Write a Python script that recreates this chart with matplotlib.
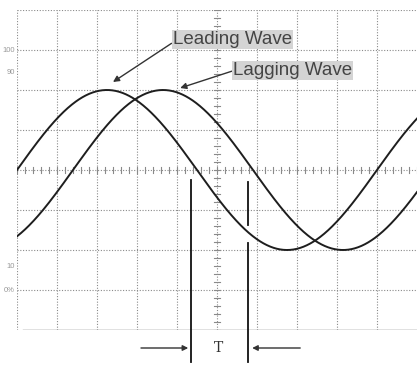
import numpy as np
import matplotlib
matplotlib.use("Agg")
import matplotlib.pyplot as plt

# ---- data (in screen divisions) ----
wave_names = ["Leading Wave", "Lagging Wave"]
wave_phase = [0.0, 1.4]          # horizontal offset of each wave (div)
amplitude = 2.0                  # peak amplitude (div)
period = 9.0                     # period (div)
level_labels = ["100", "90", "10", "0%"]
level_y = [3.0, 2.45, -2.4, -3.0]
t_marks = [4.35, 5.78]           # T interval edges (div)

fig = plt.figure(figsize=(4.18, 3.65), dpi=100)
ax = fig.add_axes([17/418, 35/365, 400/418, 320/365])
ax.set_xlim(0, 10)
ax.set_ylim(-4, 4)
ax.axis("off")

gcol = "#8a8a8a"
# grid
for gx in range(0, 10):
    ax.plot([gx, gx], [-4, 4], ls=(0, (1, 1.5)), color=gcol, lw=0.8)
for gy in range(-3, 5):
    ax.plot([0, 10], [gy, gy], ls=(0, (1, 1.5)), color=gcol, lw=0.8)
ax.plot([0.15, 10], [-4, -4], color="#6a6a6a", lw=1.0)

# center tick marks
for t in np.arange(-4, 4.01, 0.2):
    ax.plot([4.93, 5.07], [t, t], color=gcol, lw=0.8)
for t in np.arange(0, 10.01, 0.2):
    ax.plot([t, t], [-0.07, 0.07], color=gcol, lw=0.8)

# waves
x = np.linspace(0, 10, 600)
for ph in wave_phase:
    y = amplitude * np.sin(2 * np.pi * (x - ph) / period)
    ax.plot(x, y, color="#1e1e1e", lw=1.4)

# level labels
for lab, ly in zip(level_labels, level_y):
    ax.text(-0.05, ly, lab, fontsize=5.5, color="#999999", ha="right", va="center",
            family="Liberation Sans", clip_on=False)

# T markers
ax.plot([t_marks[0]] * 2, [-0.25, -4.8], color="#111111", lw=1.3, clip_on=False)
ax.plot([t_marks[1]] * 2, [-0.3, -1.38], color="#111111", lw=1.3, clip_on=False)
ax.plot([t_marks[1]] * 2, [-1.83, -4.8], color="#111111", lw=1.3, clip_on=False)
ax.annotate("", xy=(t_marks[0], -4.45), xytext=(3.03, -4.45),
            arrowprops=dict(arrowstyle="-|>", color="#333333", lw=1.0, mutation_scale=8),
            annotation_clip=False)
ax.annotate("", xy=(t_marks[1] + 0.03, -4.45), xytext=(7.15, -4.45),
            arrowprops=dict(arrowstyle="-|>", color="#333333", lw=1.0, mutation_scale=8),
            annotation_clip=False)
ax.text(5.05, -4.45, "T", fontsize=10, family="DejaVu Serif", ha="center", va="center",
        color="#333333", clip_on=False)

# wave labels
bbox = dict(boxstyle="square,pad=0.06", facecolor="#d4d4d4", edgecolor="none")
ax.annotate(wave_names[0], xy=(2.4, 2.2), xytext=(5.38, 3.27), fontsize=13.5,
            family="Liberation Sans", color="#444444", ha="center", va="center", bbox=bbox,
            arrowprops=dict(arrowstyle="-|>", color="#333333", lw=1.0, mutation_scale=9,
                            shrinkA=0, shrinkB=0, relpos=(0.0, 0.3)))
ax.annotate(wave_names[1], xy=(4.08, 2.05), xytext=(6.89, 2.48), fontsize=13.5,
            family="Liberation Sans", color="#444444", ha="center", va="center", bbox=bbox,
            arrowprops=dict(arrowstyle="-|>", color="#333333", lw=1.0, mutation_scale=9,
                            shrinkA=0, shrinkB=0, relpos=(0.0, 0.5)))

fig.savefig("out.png", dpi=100)
